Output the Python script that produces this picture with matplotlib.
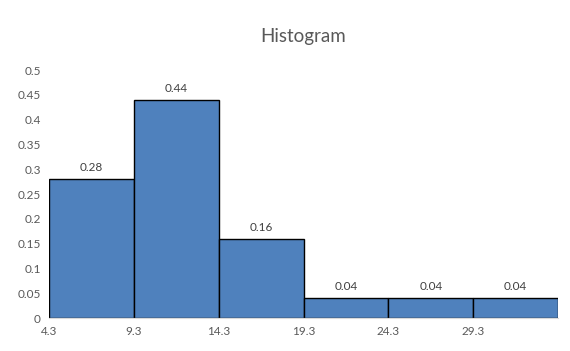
import matplotlib
matplotlib.use("Agg")
import matplotlib.pyplot as plt
import numpy as np

bin_edges = [4.3, 9.3, 14.3, 19.3, 24.3, 29.3, 34.3]
frequencies = [0.28, 0.44, 0.16, 0.04, 0.04, 0.04]
x_tick_labels = ["4.3", "9.3", "14.3", "19.3", "24.3", "29.3"]
y_ticks = [0, 0.05, 0.1, 0.15, 0.2, 0.25, 0.3, 0.35, 0.4, 0.45, 0.5]
title = "Histogram"

plt.rcParams['font.family'] = ['Lato', 'DejaVu Sans']
fig = plt.figure(figsize=(5.7, 3.51), dpi=100)
ax = fig.add_axes([0.086, 0.094, 0.893, 0.706])

lefts = np.array(bin_edges[:-1])
widths = np.diff(bin_edges)
ax.bar(lefts, frequencies, width=widths, align='edge', color='#4F81BD',
       edgecolor='black', linewidth=1.0)
for l, w, v in zip(lefts, widths, frequencies):
    ax.text(l + w / 2, v + 0.012, f"{v:g}", ha='center', va='bottom',
            fontsize=8.5, color='#404040')

ax.set_xlim(bin_edges[0], bin_edges[-1])
ax.set_ylim(0, 0.5)
ax.set_xticks(lefts)
ax.set_xticklabels(x_tick_labels)
ax.set_yticks(y_ticks)
ax.set_yticklabels([f"{t:g}" for t in y_ticks])
ax.tick_params(length=0, labelsize=8.5, colors='#595959', pad=6)
for s in ['top', 'right', 'left']:
    ax.spines[s].set_visible(False)
ax.spines['bottom'].set_color('#D9D9D9')
ax.set_title(title, fontsize=13.5, color='#595959', pad=20)

fig.savefig("out.png", dpi=100)
